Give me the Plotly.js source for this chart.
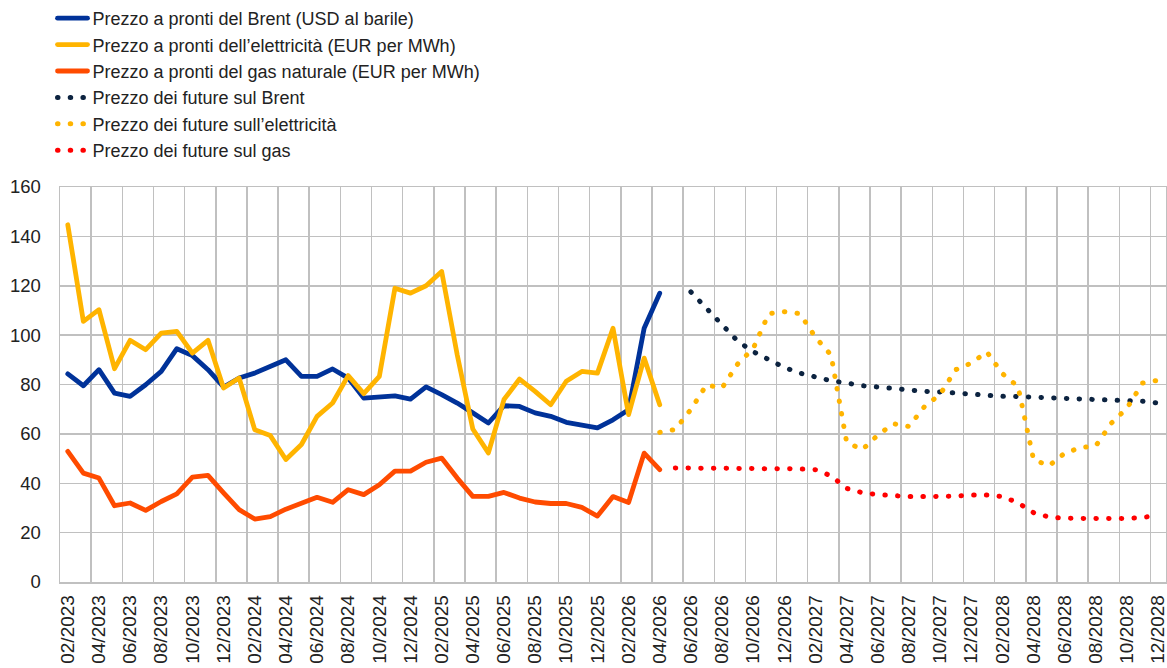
<!DOCTYPE html>
<html>
<head>
<meta charset="utf-8">
<script src="https://cdn.plot.ly/plotly-3.0.1.min.js"></script>
<style>
  html, body { margin: 0; padding: 0; background: #fff; }
  #plot { width: 1167px; height: 668px; }
  /* round caps turn the dotted futures lines into dots */
  .js-line { stroke-linecap: round; stroke-linejoin: round; }
</style>
</head>
<body>
<div id="plot"></div>
<script>
// month categories 02/2023 .. 12/2028
let months = [];
for (let y = 2023; y <= 2028; y++) {
  for (let m = 1; m <= 12; m++) {
    if (y === 2023 && m < 2) continue;
    months.push(String(m).padStart(2, "0") + "/" + y);
  }
}

// spot prices 02/2023 .. 04/2026
let brentSpot = [84.3, 79.5, 86.0, 76.5, 75.2, 79.9, 85.3, 94.5, 91.7, 86.0,
  79.0, 82.6, 84.6, 87.1, 90.0, 83.3, 83.3, 86.3, 82.6, 74.5,
  74.9, 75.4, 74.1, 79.0, 75.9, 72.5, 68.5, 64.4, 71.4, 71.1,
  68.5, 67.1, 64.7, 63.7, 62.4, 65.7, 69.8, 102.8, 117.0];
let elecSpot = [144.7, 105.6, 110.3, 86.4, 97.9, 94.1, 100.8, 101.5, 92.7, 97.9,
  78.6, 82.6, 61.7, 59.3, 49.6, 55.7, 67.1, 72.5, 83.6, 76.3,
  83.3, 119.0, 117.0, 120.0, 125.8, 92.0, 62.0, 52.3, 73.9, 82.2,
  77.2, 71.8, 81.3, 85.3, 84.6, 102.8, 67.8, 90.7, 71.8];
let gasSpot = [52.9, 44.1, 42.1, 30.9, 32.0, 29.0, 32.6, 35.7, 42.5, 43.2,
  36.1, 29.3, 25.5, 26.5, 29.5, 32.0, 34.3, 32.3, 37.4, 35.4,
  39.4, 44.9, 44.9, 48.5, 50.2, 42.1, 34.7, 34.7, 36.3, 34.0,
  32.4, 31.8, 31.8, 30.2, 26.7, 34.6, 32.2, 52.2, 45.5];

// futures: brent from 06/2026, electricity from 04/2026, gas from 05/2026
let brentFut = [117.5, 110.7, 104.0, 97.6, 93.3, 89.9, 86.9, 84.6, 82.9, 81.5,
  80.6, 79.5, 79.0, 78.3, 77.6, 77.2, 77.0, 76.5, 76.3, 75.7,
  75.2, 75.1, 74.9, 74.5, 74.4, 73.8, 73.8, 73.7, 73.4, 73.2, 72.5];
let elecFut = [60.6, 61.8, 69.9, 79.8, 78.6, 88.3, 94.6, 108.7, 109.5, 108.7,
  99.1, 91.9, 56.6, 53.6, 59.5, 64.1, 63.0, 71.1, 76.0, 86.0,
  88.7, 93.2, 84.4, 79.2, 49.5, 47.1, 52.2, 54.4, 55.2, 64.4,
  70.5, 80.6, 81.7];
let gasFut = [46.2, 46.2, 46.2, 46.2, 46.2, 46.2, 46.2, 46.2, 45.8, 45.5,
  43.0, 37.9, 36.2, 35.4, 34.8, 34.6, 34.6, 34.6, 34.8, 35.2,
  35.2, 34.6, 32.1, 28.1, 26.3, 25.8, 25.7, 25.7, 25.7, 25.7,
  26.2, 26.9];

let seriesNames = [
  "Prezzo a pronti del Brent (USD al barile)",
  "Prezzo a pronti dell\u2019elettricità (EUR per MWh)",
  "Prezzo a pronti del gas naturale (EUR per MWh)",
  "Prezzo dei future sul Brent",
  "Prezzo dei future sull\u2019elettricità",
  "Prezzo dei future sul gas"
];

let dotted = "0.5px,12.2px";

function spotTrace(name, y, color) {
  return { x: months.slice(0, y.length), y: y, name: name, type: "scatter", mode: "lines",
    legendgroup: name, line: { color: color, width: 4.8 } };
}
function futTrace(name, y, color) {
  let start = months.length - y.length;
  return { x: months.slice(start), y: y, name: name, type: "scatter", mode: "lines",
    legendgroup: name, line: { color: color, width: 5, dash: dotted } };
}

let data = [
  spotTrace(seriesNames[0], brentSpot, "#003299"),
  spotTrace(seriesNames[1], elecSpot, "#FFB400"),
  spotTrace(seriesNames[2], gasSpot, "#FF4B00"),
  futTrace(seriesNames[3], brentFut, "#0C2340"),
  futTrace(seriesNames[4], elecFut, "#FFB400"),
  futTrace(seriesNames[5], gasFut, "#FF0000")
];

let gridCol = "#c0c0c0";
let layout = {
  width: 1167,
  height: 668,
  margin: { l: 60, r: 1, t: 187, b: 86, autoexpand: false },
  paper_bgcolor: "#fff",
  plot_bgcolor: "#fff",
  font: { family: "Liberation Sans, Arial, sans-serif", size: 18, color: "#222" },
  showlegend: true,
  legend: {
    xref: "container", yref: "container",
    x: 0.045, y: 1, xanchor: "left", yanchor: "top",
    traceorder: "grouped", tracegroupgap: 0,
    font: { size: 18, color: "#222" },
    bgcolor: "rgba(0,0,0,0)"
  },
  xaxis: {
    type: "category",
    categoryorder: "array",
    categoryarray: months,
    range: [-0.5, months.length - 0.5],
    tickmode: "linear", tick0: 0, dtick: 2,
    tickson: "boundaries",
    tickangle: -90,
    ticks: "",
    ticklabelstandoff: 4,
    tickfont: { size: 19, color: "#222" },
    showgrid: true, gridcolor: gridCol, gridwidth: 1.5,
    showline: true, linecolor: gridCol, linewidth: 1.5, mirror: true,
    zeroline: false, fixedrange: true
  },
  yaxis: {
    range: [0, 160],
    tickmode: "linear", tick0: 0, dtick: 20,
    ticks: "",
    ticklabelstandoff: 14,
    tickfont: { size: 18.5, color: "#222" },
    showgrid: true, gridcolor: gridCol, gridwidth: 1.5,
    showline: true, linecolor: gridCol, linewidth: 1.5, mirror: true,
    zeroline: false, fixedrange: true
  }
};

Plotly.newPlot("plot", data, layout, { displayModeBar: false, staticPlot: true });
</script>
</body>
</html>
